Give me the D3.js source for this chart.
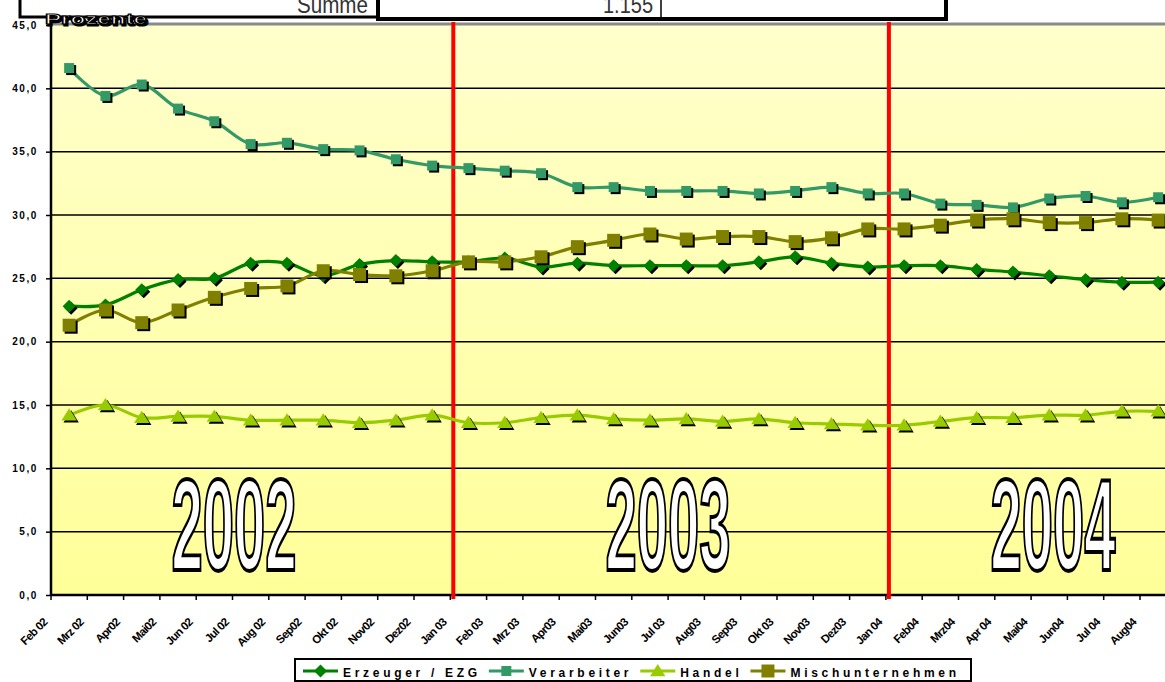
<!DOCTYPE html>
<html>
<head>
<meta charset="utf-8">
<script src="https://cdn.jsdelivr.net/npm/d3@7/dist/d3.min.js"></script>
<style>
  body { margin: 0; background: #fff; }
  svg { display: block; font-family: Arial, "Liberation Sans", sans-serif; }
</style>
</head>
<body>
<script>
// Monate (Kategorien der x-Achse)
var monate = ["Feb 02","Mrz 02","Apr02","Mai02","Jun 02","Jul 02","Aug 02","Sep02","Okt 02","Nov02","Dez02",
    "Jan 03","Feb 03","Mrz 03","Apr03","Mai03","Jun03","Jul 03","Aug03","Sep03","Okt 03","Nov03","Dez03",
    "Jan 04","Feb04","Mrz04","Apr 04","Mai04","Jun04","Jul 04","Aug04"];

// Anteile in Prozent je Gruppe
var erzeuger = [22.8,22.9,24.1,24.9,25.0,26.2,26.2,25.2,26.1,26.4,26.3,
    26.3,26.6,25.9,26.2,26.0,26.0,26.0,26.0,26.3,26.7,26.2,25.9,
    26.0,26.0,25.7,25.5,25.2,24.9,24.7,24.7];
var verarbeiter = [41.6,39.4,40.3,38.4,37.4,35.6,35.7,35.2,35.1,34.4,33.9,
    33.7,33.5,33.3,32.2,32.2,31.9,31.9,31.9,31.7,31.9,32.2,31.7,
    31.7,30.9,30.8,30.6,31.3,31.5,31.0,31.4];
var handel = [14.2,15.0,14.0,14.1,14.1,13.8,13.8,13.8,13.6,13.8,14.2,
    13.6,13.6,14.0,14.2,13.9,13.8,13.9,13.7,13.9,13.6,13.5,13.4,
    13.4,13.7,14.0,14.0,14.2,14.2,14.5,14.5];
var misch = [21.3,22.5,21.5,22.5,23.5,24.2,24.4,25.6,25.3,25.2,25.6,
    26.3,26.3,26.7,27.5,28.0,28.5,28.1,28.3,28.3,27.9,28.2,28.9,
    28.9,29.2,29.6,29.7,29.4,29.4,29.7,29.6];

var serienNamen = ["Erzeuger / EZG","Verarbeiter","Handel","Mischunternehmen"];
var yTicks = [0,5,10,15,20,25,30,35,40,45];
var jahre = ["2002","2003","2004"];
var jahresWechsel = ["Jan 03","Jan 04"];   // rote Trennlinien vor diesen Monaten
var tabelleTexte = ["Summe","1.155"];

var anchoSvg = 1165, altoSvg = 682;
var margen = {izq:51, sup:24, inf:595};
var paso = 36.3;

var escalaX = d3.scaleBand()
    .domain(monate)
    .range([margen.izq, margen.izq + monate.length * paso])
    .paddingInner(0).paddingOuter(0);
var bw = escalaX.bandwidth();
var escalaY = d3.scaleLinear().domain([0,45]).range([margen.inf, margen.sup + 1]);

var svg = d3.select('body').append('svg')
    .attr('width', anchoSvg).attr('height', altoSvg);

var defs = svg.append('defs');
var grad = defs.append('linearGradient').attr('id','fondo')
    .attr('x1',0).attr('y1',0).attr('x2',0).attr('y2',1);
grad.append('stop').attr('offset','0%').attr('stop-color','#ffffcc');
grad.append('stop').attr('offset','100%').attr('stop-color','#ffff99');

// Tabellenrest oben
var tab = svg.append('g');
tab.append('rect').attr('x',20).attr('y',-10).attr('width',358).attr('height',27)
    .attr('fill','#fff').attr('stroke','#000').attr('stroke-width',3);
tab.append('rect').attr('x',378).attr('y',-10).attr('width',568).attr('height',29)
    .attr('fill','#fff').attr('stroke','#000').attr('stroke-width',4);
tab.append('line').attr('x1',661).attr('x2',661).attr('y1',-10).attr('y2',18)
    .attr('stroke','#000').attr('stroke-width',1.5);
tab.selectAll('text.tab').data(tabelleTexte).enter().append('text')
    .attr('class','tab')
    .attr('x',(d,i) => i == 0 ? 368 : 653)
    .attr('y',13)
    .attr('text-anchor','end')
    .attr('textLength',(d,i) => i == 0 ? 71 : 50)
    .attr('lengthAdjust','spacingAndGlyphs')
    .style('font-family','"Liberation Sans Narrow","Arial Narrow","Liberation Sans",sans-serif')
    .style('font-size','24px')
    .attr('fill','#333')
    .text(d => d);

// Zeichenfläche
var rechts = escalaX.range()[1];
svg.append('rect')
    .attr('x', margen.izq).attr('y', margen.sup)
    .attr('width', rechts - margen.izq).attr('height', margen.inf - margen.sup)
    .attr('fill','url(#fondo)');

// Gitternetz
svg.append('g').selectAll('line').data(yTicks.filter(d => d > 0 && d < 45)).enter()
    .append('line')
    .attr('x1', margen.izq).attr('x2', rechts)
    .attr('y1', d => escalaY(d)).attr('y2', d => escalaY(d))
    .attr('stroke','#000').attr('stroke-width',1.5);

// oberer Rand
svg.append('line').attr('x1', margen.izq).attr('x2', rechts)
    .attr('y1', margen.sup).attr('y2', margen.sup)
    .attr('stroke','#8a8a8a').attr('stroke-width',3);

// Jahreszahlen (schmal gestaucht, weiß mit schwarzer Kontur)
var jahrX = [234, 668, 1053];
svg.append('g').selectAll('text').data(jahre).enter().append('text')
    .attr('x',0).attr('y',0)
    .attr('text-anchor','middle')
    .style('font-size','130px').style('font-weight','bold')
    .style('font-family','"Liberation Sans Narrow","Arial Narrow","Liberation Sans",sans-serif')
    .attr('fill','#fff').attr('stroke','#000').attr('stroke-width',3)
    .attr('vector-effect','non-scaling-stroke')
    .text(d => d)
    .attr('transform', function(d,i) {
        var sx = 125 / this.getComputedTextLength();
        return 'translate(' + jahrX[i] + ',570) scale(' + sx + ',1)';
    });

// Achsen
var ejeY = d3.axisLeft(escalaY).tickValues(yTicks).tickSize(5).tickSizeOuter(0)
    .tickFormat(d => d3.format('.1f')(d).replace('.', ','));
var gY = svg.append('g').attr('transform','translate(' + margen.izq + ',0)').call(ejeY);
gY.select('.domain').remove();
gY.selectAll('line').attr('stroke','#000').attr('stroke-width',1.5);
gY.selectAll('text')
    .attr('x',-13)
    .style('font-size','10px').style('font-weight','bold')
    .style('letter-spacing','1.6px').attr('fill','#000');

svg.append('line').attr('x1', margen.izq).attr('x2', margen.izq)
    .attr('y1', margen.sup - 1).attr('y2', margen.inf + 1)
    .attr('stroke','#000').attr('stroke-width',2.5);
svg.append('line').attr('x1', margen.izq).attr('x2', rechts)
    .attr('y1', margen.inf).attr('y2', margen.inf)
    .attr('stroke','#000').attr('stroke-width',2.5);

svg.append('g').selectAll('line').data(monate).enter().append('line')
    .attr('x1', d => escalaX(d)).attr('x2', d => escalaX(d))
    .attr('y1', margen.inf).attr('y2', margen.inf + 5)
    .attr('stroke','#000').attr('stroke-width',1.5);

svg.append('g').selectAll('text').data(monate).enter().append('text')
    .attr('transform', d => 'translate(' + (escalaX(d) - 3) + ',623) rotate(-45)')
    .attr('text-anchor','end')
    .style('font-size','11.5px').style('font-weight','bold')
    .style('letter-spacing','-0.7px')
    .attr('fill','#000')
    .text(d => d);

// rote Jahrestrenner
svg.append('g').selectAll('line').data(jahresWechsel).enter().append('line')
    .attr('x1', d => escalaX(d) + 3).attr('x2', d => escalaX(d) + 3)
    .attr('y1', margen.sup - 2).attr('y2', margen.inf + 4)
    .attr('stroke','#ff0000').attr('stroke-width',4);

// Marker-Formen
var formas = {
    rombo: r => 'M0,' + (-r) + 'L' + r + ',0L0,' + r + 'L' + (-r) + ',0Z',
    cuadro: r => 'M' + (-r) + ',' + (-r) + 'h' + (2*r) + 'v' + (2*r) + 'h' + (-2*r) + 'Z',
    triangulo: r => 'M0,' + (-r) + 'L' + (r*1.1) + ',' + (r*0.75) + 'L' + (-r*1.1) + ',' + (r*0.75) + 'Z'
};

var series = [
    {nombre: serienNamen[0], valores: erzeuger, color:'#008000', forma:'rombo', r:6.5},
    {nombre: serienNamen[1], valores: verarbeiter, color:'#339966', forma:'cuadro', r:5},
    {nombre: serienNamen[2], valores: handel, color:'#99cc00', forma:'triangulo', r:7},
    {nombre: serienNamen[3], valores: misch, color:'#808000', forma:'cuadro', r:6.5}
];

var linea = d3.line()
    .x((d,i) => escalaX(monate[i]) + bw/2)
    .y(d => escalaY(d))
    .curve(d3.curveCatmullRom.alpha(0.5));

var grupos = svg.append('g').attr('class','grupo-lineas')
    .selectAll('g').data(series).enter().append('g');

grupos.append('path')
    .attr('d', d => linea(d.valores))
    .attr('fill','none')
    .attr('stroke', d => d.color)
    .attr('stroke-width',3.2);

grupos.each(function(s) {
    var g = d3.select(this);
    var pts = s.valores.map((v,i) => ({x: escalaX(monate[i]) + bw/2, y: escalaY(v)}));
    g.selectAll('path.sombra').data(pts).enter().append('path')
        .attr('class','sombra')
        .attr('d', formas[s.forma](s.r))
        .attr('transform', p => 'translate(' + (p.x + 2) + ',' + (p.y + 2) + ')')
        .attr('fill','#000');
    g.selectAll('path.marca').data(pts).enter().append('path')
        .attr('class','marca')
        .attr('d', formas[s.forma](s.r))
        .attr('transform', p => 'translate(' + p.x + ',' + p.y + ')')
        .attr('fill', s.color);
});

// Titel der y-Achse (weiße Schrift mit Kontur und Schatten)
svg.append('text')
    .attr('x',46.5).attr('y',25.5)
    .attr('textLength',102).attr('lengthAdjust','spacingAndGlyphs')
    .style('font-size','15px').style('font-weight','bold')
    .attr('fill','#000').attr('stroke','#000').attr('stroke-width',1.2)
    .text('Prozente');
svg.append('text')
    .attr('x',45).attr('y',24)
    .attr('textLength',102).attr('lengthAdjust','spacingAndGlyphs')
    .style('font-size','15px').style('font-weight','bold')
    .attr('fill','#fff').attr('stroke','#000').attr('stroke-width',1.1)
    .text('Prozente');

// Legende
var leyenda = svg.append('g');
leyenda.append('rect')
    .attr('x',295).attr('y',659).attr('width',676).attr('height',22)
    .attr('fill','#fff').attr('stroke','#000').attr('stroke-width',2);
var lx = 303;
series.forEach(function(s) {
    var g = leyenda.append('g');
    g.append('line').attr('x1',lx).attr('x2',lx + 35).attr('y1',671).attr('y2',671)
        .attr('stroke', s.color).attr('stroke-width',3.2);
    g.append('path').attr('d', formas[s.forma](s.r))
        .attr('transform','translate(' + (lx + 17.5) + ',671)')
        .attr('fill', s.color);
    var t = g.append('text').attr('x', lx + 40).attr('y',677)
        .style('font-size','12px').style('font-weight','bold')
        .style('letter-spacing','3.7px')
        .attr('fill','#000')
        .text(s.nombre);
    lx = lx + 40 + t.node().getComputedTextLength() + 8;
});
</script>
</body>
</html>
